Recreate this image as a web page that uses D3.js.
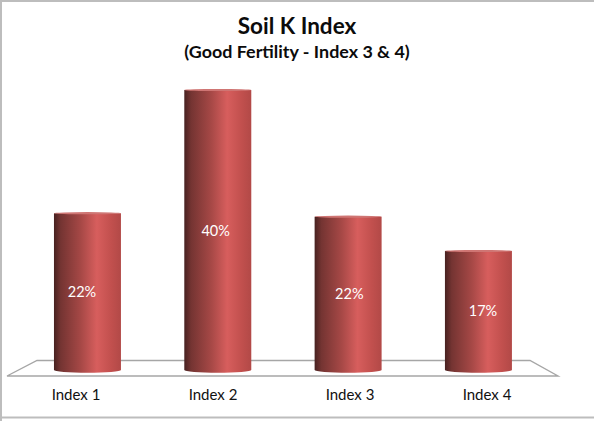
<!DOCTYPE html>
<html>
<head>
<meta charset="utf-8">
<script src="https://cdn.jsdelivr.net/npm/d3@7/dist/d3.min.js"></script>
<style>
  html, body { margin: 0; padding: 0; background: #fff; }
  svg { display: block; font-family: Lato, "Open Sans", sans-serif; }
</style>
</head>
<body>
<svg id="chart" width="594" height="421"></svg>
<script>
const categories = ["Index 1", "Index 2", "Index 3", "Index 4"];
const percents = [22.4, 40, 21.9, 17];
const titleLines = ["Soil K Index", "(Good Fertility - Index 3 & 4)"];

const svg = d3.select("#chart");

// bars stand on the back of the 3D floor, labels follow the front edge
const x = d3.scaleBand()
  .domain(categories)
  .range([22.3, 543.6])
  .paddingInner(0.486)
  .paddingOuter(0.243);
const xLabel = d3.scalePoint().domain(categories).range([76, 487]);
const xValue = d3.scalePoint().domain(categories).range([82, 483]);

const y = d3.scaleLinear().domain([0, 40]).range([370, 90]);

// Cylinder shading
const grad = svg.append("defs").append("linearGradient").attr("id", "cyl");
[[0, "#472120"], [0.1, "#743432"], [0.4, "#a64846"], [0.64, "#d75e5d"], [0.85, "#c2504e"], [1, "#b24947"]]
  .forEach(s => grad.append("stop").attr("offset", s[0]).attr("stop-color", s[1]));

// Outer frame
svg.append("path")
  .attr("d", "M1,421V1H594M0,417.5H594")
  .attr("fill", "none")
  .attr("stroke", "#bdbdbd")
  .attr("stroke-width", 2);

// Floor of the 3D plot
svg.append("path")
  .attr("d", "M7,376L37,360.5H530L558,376Z")
  .attr("fill", "#fff")
  .attr("stroke", "#a6a6a6")
  .attr("stroke-width", 1.4);

// Bars
const bars = svg.selectAll("g.bar")
  .data(percents)
  .join("g")
  .attr("class", "bar")
  .attr("transform", (d, i) => `translate(${x(categories[i])},0)`);

const w = x.bandwidth();

bars.append("path")
  .attr("d", d => `M0,${y(d)}V${y(0)}A${w / 2},2.8 0 0 0 ${w},${y(0)}V${y(d)}Z`)
  .attr("fill", "url(#cyl)");

bars.append("ellipse")
  .attr("cx", w / 2)
  .attr("cy", d => y(d))
  .attr("rx", w / 2)
  .attr("ry", 1.1)
  .attr("fill", "#cf7573");

svg.selectAll("text.val")
  .data(percents)
  .join("text")
  .attr("class", "val")
  .attr("x", (d, i) => xValue(categories[i]))
  .attr("y", d => (y(d) + y(0)) / 2 + 5.5)
  .attr("text-anchor", "middle")
  .attr("font-size", 14.5)
  .attr("fill", "#fff")
  .text(d => Math.round(d) + "%");

// Category labels
svg.selectAll("text.cat")
  .data(categories)
  .join("text")
  .attr("class", "cat")
  .attr("x", d => xLabel(d))
  .attr("y", 400)
  .attr("text-anchor", "middle")
  .attr("font-size", 15)
  .attr("fill", "#111")
  .text(d => d);

// Title
svg.append("text")
  .attr("x", 297).attr("y", 34)
  .attr("text-anchor", "middle")
  .attr("font-size", 22.5)
  .attr("font-weight", 700)
  .attr("fill", "#0b0b0b")
  .text(titleLines[0]);

svg.append("text")
  .attr("x", 297).attr("y", 58)
  .attr("text-anchor", "middle")
  .attr("font-size", 17.9)
  .attr("font-weight", 700)
  .attr("fill", "#0b0b0b")
  .text(titleLines[1]);
</script>
</body>
</html>
